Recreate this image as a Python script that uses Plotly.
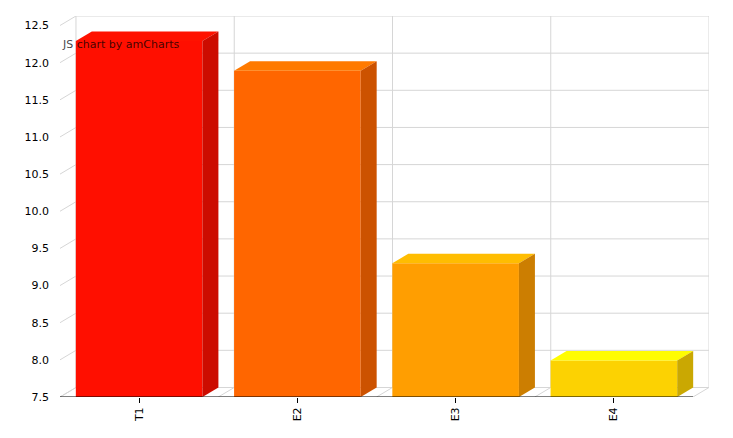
import plotly.graph_objects as go

# data
categories = ["T1", "E2", "E3", "E4"]
values = [12.29, 11.89, 9.30, 7.99]
front_colors = ["#FF0F00", "#FF6600", "#FF9E01", "#FCD202"]
top_colors = ["#FF1200", "#FF7A00", "#FFBD01", "#FFFC02"]
side_colors = ["#CC0C00", "#CC5200", "#CC7E01", "#CAA802"]
y_ticks = [7.5, 8.0, 8.5, 9.0, 9.5, 10.0, 10.5, 11.0, 11.5, 12.0, 12.5]
y_labels = ["7.5", "8.0", "8.5", "9.0", "9.5", "10.0", "10.5", "11.0", "11.5", "12.0", "12.5"]

Y_MIN, Y_MAX = 7.5, 12.5
BAR_W = 0.8
DX, DY = 0.101, 0.128  # 3d depth in data units (~16px right, ~9.5px up)
GRID = "#d6d6d6"
FONT = "Verdana, DejaVu Sans, sans-serif"

xs = list(range(len(categories)))
bounds = [i - 0.5 for i in range(len(categories) + 1)]

fig = go.Figure()

# front faces
fig.add_trace(go.Bar(
    x=xs, y=values, width=BAR_W, marker=dict(color=front_colors, line=dict(width=0)),
    hoverinfo="x+y", showlegend=False,
))

# top and side faces
for x, v, tc, sc in zip(xs, values, top_colors, side_colors):
    l, r = x - BAR_W / 2, x + BAR_W / 2
    fig.add_trace(go.Scatter(
        x=[l, l + DX, r + DX, r, l], y=[v, v + DY, v + DY, v, v],
        fill="toself", fillcolor=tc, mode="lines", line=dict(width=0, color=tc),
        hoverinfo="skip", showlegend=False,
    ))
    fig.add_trace(go.Scatter(
        x=[r, r + DX, r + DX, r, r], y=[Y_MIN, Y_MIN + DY, v + DY, v, Y_MIN],
        fill="toself", fillcolor=sc, mode="lines", line=dict(width=0, color=sc),
        hoverinfo="skip", showlegend=False,
    ))

# back-plane grid, left wall and floor
shapes = []
for t in y_ticks:
    shapes.append(dict(type="line", xref="x", yref="y", layer="below",
                       x0=bounds[0] + DX, x1=bounds[-1] + DX, y0=t + DY, y1=t + DY,
                       line=dict(color=GRID, width=1)))
    shapes.append(dict(type="line", xref="x", yref="y", layer="below",
                       x0=bounds[0], x1=bounds[0] + DX, y0=t, y1=t + DY,
                       line=dict(color=GRID, width=1)))
for b in bounds:
    shapes.append(dict(type="line", xref="x", yref="y", layer="below",
                       x0=b + DX, x1=b + DX, y0=Y_MIN + DY, y1=Y_MAX + DY,
                       line=dict(color=GRID, width=1)))
    shapes.append(dict(type="line", xref="x", yref="y", layer="below",
                       x0=b, x1=b + DX, y0=Y_MIN, y1=Y_MIN + DY,
                       line=dict(color=GRID, width=1)))
# category axis line
shapes.append(dict(type="line", xref="x", yref="y", layer="above",
                   x0=bounds[0], x1=bounds[-1], y0=Y_MIN, y1=Y_MIN,
                   line=dict(color="#000000", width=1)))

# the page body adds an 8px margin, so margins are trimmed to keep the plot in place
fig.update_layout(
    width=733, height=438,
    margin=dict(l=52, r=32, t=8, b=49),
    paper_bgcolor="#ffffff", plot_bgcolor="#ffffff",
    font=dict(family=FONT, size=11, color="#000000"),
    shapes=shapes,
    showlegend=False,
    annotations=[dict(
        text="JS chart by amCharts", xref="paper", yref="paper",
        x=0.0, y=0.9265, xanchor="left", yanchor="middle", showarrow=False,
        font=dict(family=FONT, size=11, color="rgba(0,0,0,0.75)"),
    )],
)
fig.update_xaxes(
    range=[bounds[0], bounds[-1] + DX], tickvals=xs, ticktext=categories,
    tickangle=-90, ticks="outside", ticklen=5, tickcolor="#000000",
    showgrid=False, zeroline=False, showline=False, fixedrange=True,
)
fig.update_yaxes(
    range=[Y_MIN, Y_MAX + DY], tickvals=y_ticks, ticktext=y_labels,
    ticks="", ticklabelstandoff=10, showgrid=False, zeroline=False,
    showline=False, fixedrange=True,
)

fig.write_html("out.html")
